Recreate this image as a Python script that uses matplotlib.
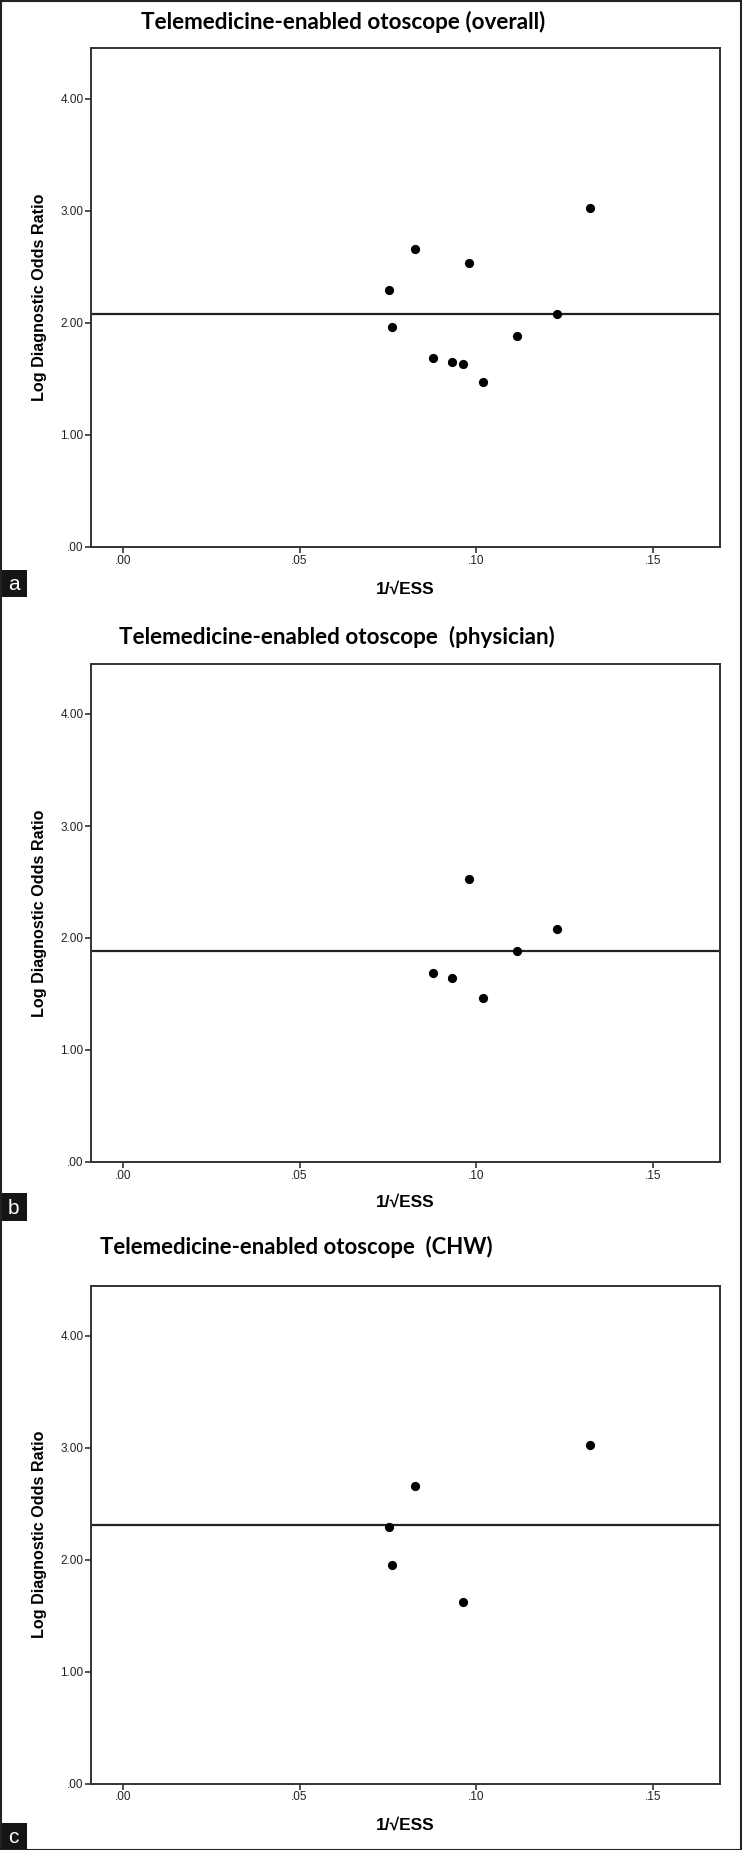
import matplotlib
matplotlib.use("Agg")
import matplotlib.pyplot as plt
from matplotlib.patches import Rectangle
import matplotlib.font_manager as fm

# ---------------- data ----------------
titles = ["Telemedicine-enabled otoscope (overall)",
          "Telemedicine-enabled otoscope  (physician)",
          "Telemedicine-enabled otoscope  (CHW)"]
panel_letters = ["a", "b", "c"]

overall_x = [0.0754, 0.0763, 0.0826, 0.0879, 0.0931, 0.0962, 0.0979, 0.1018, 0.1116, 0.1230, 0.1322]
overall_y = [2.295, 1.960, 2.659, 1.685, 1.646, 1.628, 2.536, 1.469, 1.886, 2.080, 3.026]
overall_line = 2.080

physician_x = [0.0879, 0.0931, 0.0979, 0.1018, 0.1116, 0.1230]
physician_y = [1.685, 1.644, 2.531, 1.467, 1.886, 2.080]
physician_line = 1.885

chw_x = [0.0754, 0.0763, 0.0826, 0.0962, 0.1322]
chw_y = [2.297, 1.957, 2.659, 1.625, 3.025]
chw_line = 2.316

x_ticks = [0.00, 0.05, 0.10, 0.15]
x_tick_labels = [".00", ".05", ".10", ".15"]
y_ticks = [0.0, 1.0, 2.0, 3.0, 4.0]
y_tick_labels = [".00", "1.00", "2.00", "3.00", "4.00"]
x_label = "1/\u221aESS"
y_label = "Log Diagnostic Odds Ratio"

series = [(overall_x, overall_y, overall_line),
          (physician_x, physician_y, physician_line),
          (chw_x, chw_y, chw_line)]

# ---------------- fonts ----------------
avail = {f.name for f in fm.fontManager.ttflist}
narrow = "Liberation Sans Narrow" if "Liberation Sans Narrow" in avail else "Liberation Sans"
title_font = ["Lato", "DejaVu Sans"]
arial = ["Liberation Sans", "DejaVu Sans"]

W, H = 742, 1850
fig = plt.figure(figsize=(W / 100, H / 100), dpi=100)
fig.patch.set_facecolor("white")
renderer = fig.canvas.get_renderer()

# axes geometry in pixels (top, bottom)
ax_left, ax_right = 91.3, 719.8
ax_tb = [(48.2, 546.9), (663.6, 1162.0), (1285.6, 1783.8)]
title_pos = [(343, 21.7), (336.7, 636.7), (296.3, 1247.1)]
title_width = [407, 438.7, 393.7]
xlabel_y = [589, 1202.6, 1825.3]
box_tb = [(569.5, 597), (1193, 1221), (1823, 1850)]


def fitted_text(x, y, s, target_w, base_size, **kw):
    t = fig.text(x, y, s, fontsize=base_size, **kw)
    w = t.get_window_extent(renderer=renderer).width
    t.set_fontsize(base_size * target_w / w)
    return t


spine_col = "#333333"
for i, (xs, ys, yline) in enumerate(series):
    top, bot = ax_tb[i]
    ax = fig.add_axes([ax_left / W, 1 - bot / H, (ax_right - ax_left) / W, (bot - top) / H])
    ax.set_xlim(-0.009, 0.169)
    ax.set_ylim(0, 4.45)
    ax.scatter(xs, ys, s=44, color="black", zorder=3, linewidths=0)
    ax.axhline(yline, color="#222222", lw=1.6, zorder=2)
    ax.set_xticks(x_ticks)
    ax.set_xticklabels(x_tick_labels, family=narrow, fontsize=8.5, color="#222222")
    ax.set_yticks(y_ticks)
    ax.set_yticklabels(y_tick_labels, family=narrow, fontsize=8.5, color="#222222")
    ax.tick_params(direction="out", length=4, width=1.2, color=spine_col, pad=1.5)
    for sp in ax.spines.values():
        sp.set_color(spine_col)
        sp.set_linewidth(1.4)
    # title
    tx, ty = title_pos[i]
    fitted_text(tx / W, 1 - ty / H, titles[i], title_width[i], 14,
                ha="center", va="center", family=title_font, fontweight="bold", color="black")
    # y label
    fig.text(40 / W, 1 - ((top + bot) / 2) / H, y_label, rotation=90, ha="center", va="center",
             family=arial, fontweight="bold", fontsize=11.6, color="black")
    # x label
    fig.text(405.5 / W, 1 - xlabel_y[i] / H, x_label, ha="center", va="center",
             family=arial, fontweight="bold", fontsize=12.5, color="black")
    # panel letter box
    bt, bb = box_tb[i]
    fig.patches.append(Rectangle((0, 1 - bb / H), 27 / W, (bb - bt) / H,
                                 transform=fig.transFigure, facecolor="#151515",
                                 edgecolor="none", zorder=5))
    fig.text(13.5 / W, 1 - ((bt + bb) / 2 + 1) / H, panel_letters[i], ha="center", va="center",
             family=arial, fontsize=15, color="white", zorder=6)

# outer border
fig.patches.append(Rectangle((0.5 / W, 0.5 / H), (W - 1.5) / W, (H - 1.5) / H,
                             transform=fig.transFigure, facecolor="none",
                             edgecolor="#222222", lw=1.5, zorder=10))

fig.savefig("out.png", dpi=100, facecolor="white")
